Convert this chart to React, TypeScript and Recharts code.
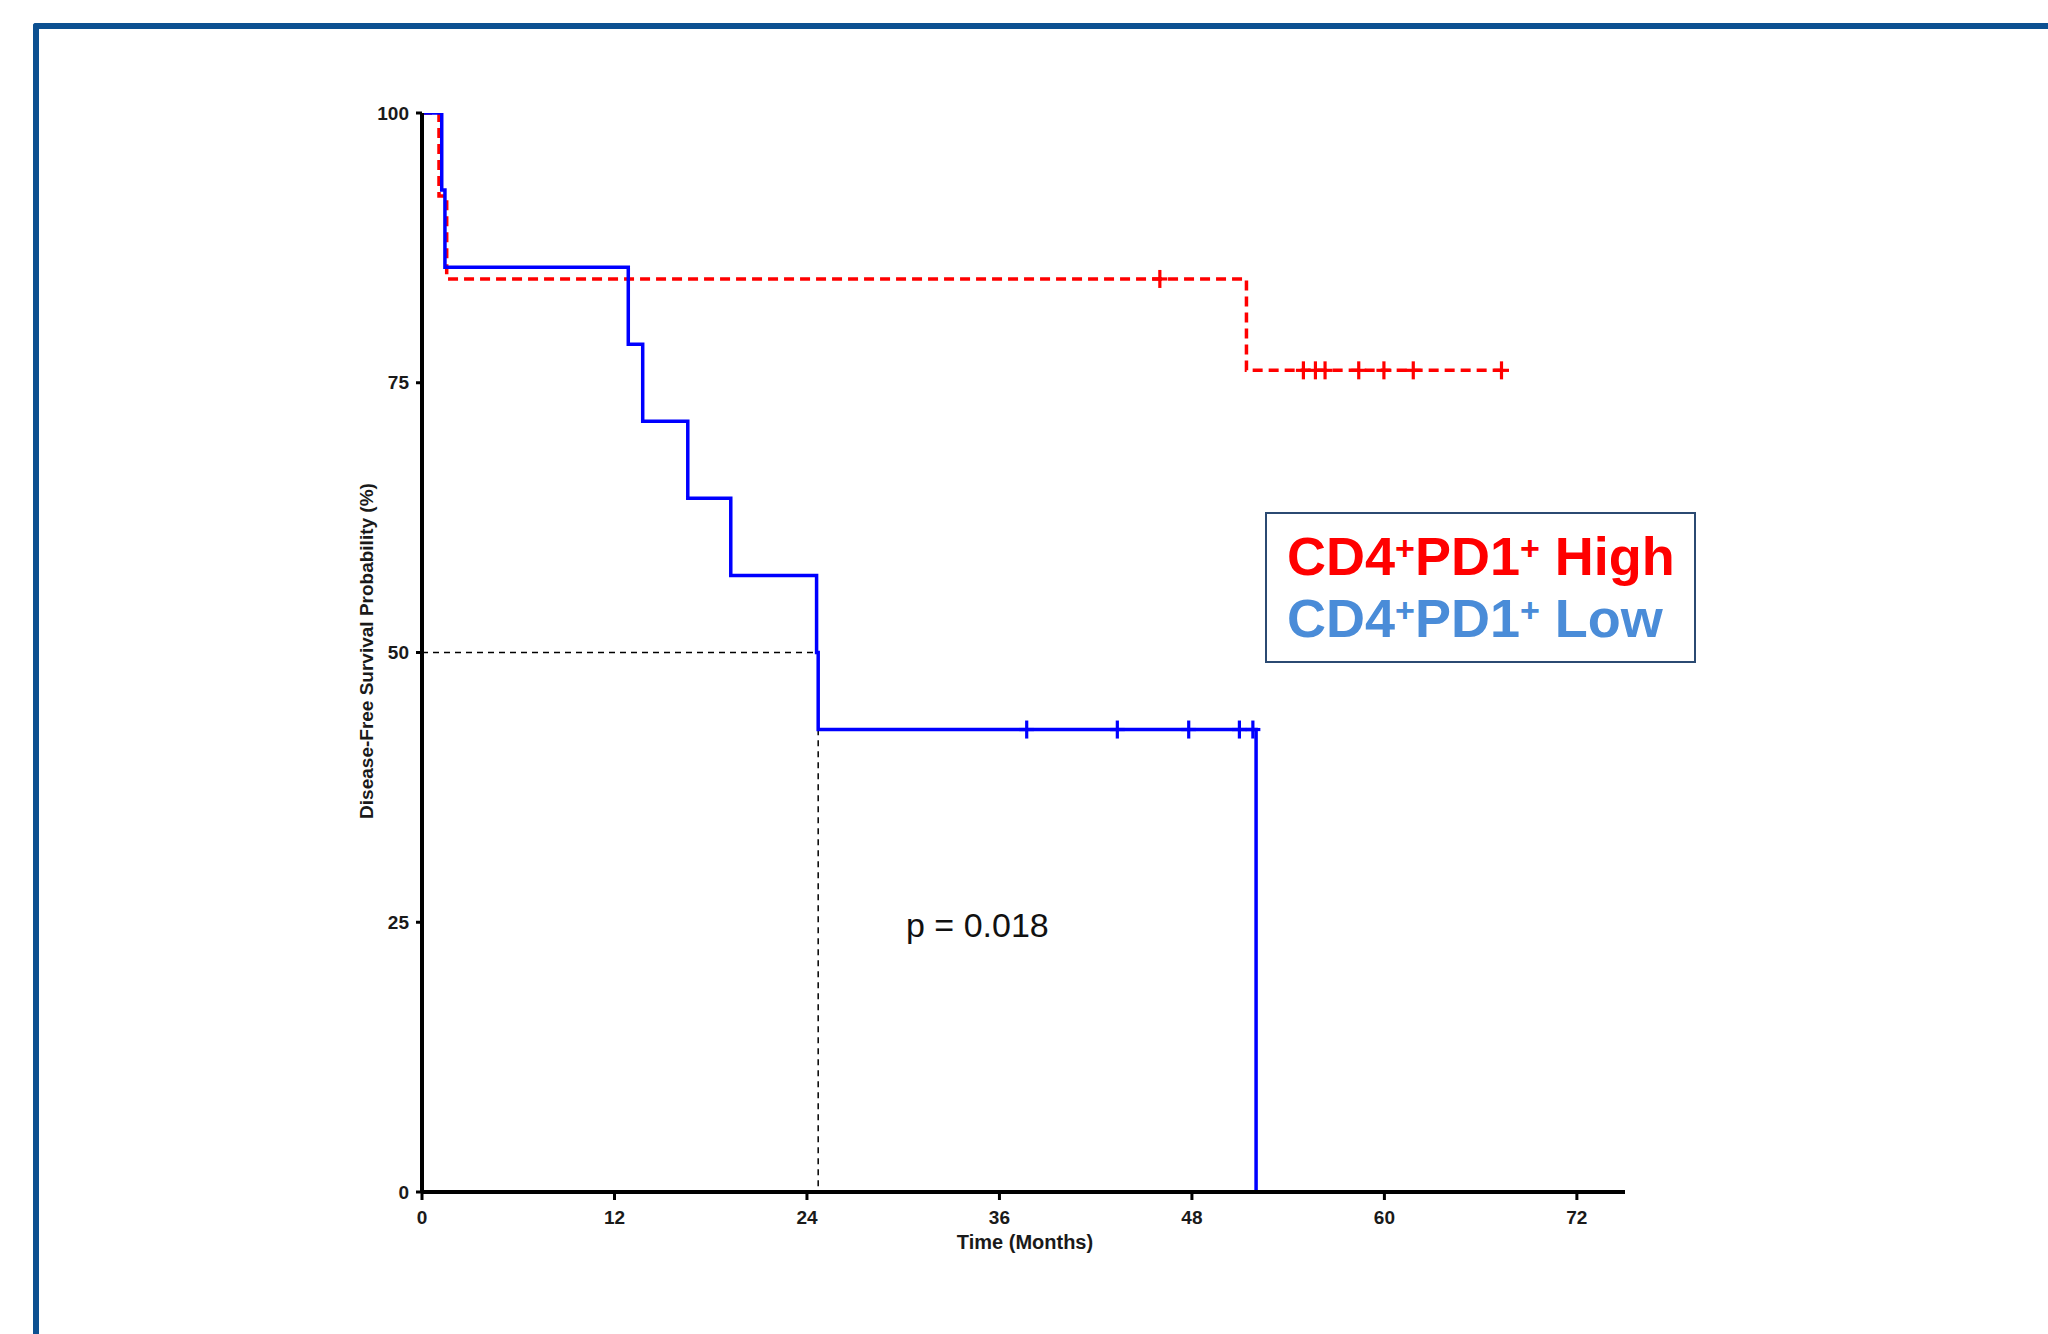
import React from 'react';
import { ComposedChart, Line, Scatter, XAxis, YAxis } from 'recharts';

// ---- data ----
const xTicks = [0, 12, 24, 36, 48, 60, 72];
const yTicks = [0, 25, 50, 75, 100];

// CD4+PD1+ Low (blue, solid) Kaplan-Meier steps
const lowTimes = [0, 1.23, 1.43, 12.86, 13.76, 16.57, 19.25, 24.6, 24.7, 52.0];
const lowSurvival = [100, 92.86, 85.71, 78.57, 71.43, 64.29, 57.14, 50.0, 42.86, 0];

// CD4+PD1+ High (red, dashed) Kaplan-Meier steps
const highTimes = [0, 1.06, 1.54, 51.4, 67.3];
const highSurvival = [100, 92.31, 84.62, 76.15, 76.15];

// censored observations
const lowCensorTimes = [37.7, 43.35, 47.8, 50.96, 51.8];
const lowCensorSurvival = [42.86, 42.86, 42.86, 42.86, 42.86];
const highCensorTimes = [46.0, 54.95, 55.7, 56.3, 58.4, 59.97, 61.8, 67.3];
const highCensorSurvival = [84.62, 76.15, 76.15, 76.15, 76.15, 76.15, 76.15, 76.15];

// median survival guide
const medianTimes = [0, 24.7, 24.7];
const medianSurvival = [50, 50, 0];

const legendHigh = ['CD4', '+', 'PD1', '+', ' High'];
const legendLow = ['CD4', '+', 'PD1', '+', ' Low'];
const pValueText = 'p = 0.018';
const xLabel = 'Time (Months)';
const yLabel = 'Disease-Free Survival Probability (%)';

const zip = (t: number[], s: number[]) => t.map((x, i) => ({ t: x, s: s[i] }));

const lowData = zip(lowTimes, lowSurvival);
const highData = zip(highTimes, highSurvival);
const lowCensor = zip(lowCensorTimes, lowCensorSurvival);
const highCensor = zip(highCensorTimes, highCensorSurvival);
const medianData = zip(medianTimes, medianSurvival);

const FONT = '"Liberation Sans", Arial, sans-serif';

const makePlus = (color: string) => (props: any) => {
  const { cx, cy } = props;
  if (cx == null || cy == null) return <g />;
  return (
    <g stroke={color} strokeWidth={3.2}>
      <line x1={cx - 7.5} x2={cx + 7.5} y1={cy} y2={cy} />
      <line x1={cx} x2={cx} y1={cy - 9} y2={cy + 9} />
    </g>
  );
};

const SUP_SHIFT = 15;

const LegendLine = ({ parts, y, color }: { parts: string[]; y: number; color: string }) => (
  <text x={1287} y={y} fill={color} fontFamily={FONT} fontWeight="bold" fontSize={54}>
    {parts.map((p, i) =>
      p === '+' ? (
        <tspan key={i} fontSize={34} dy={-SUP_SHIFT}>
          {p}
        </tspan>
      ) : (
        <tspan key={i} dy={i > 0 && parts[i - 1] === '+' ? SUP_SHIFT : 0}>
          {p}
        </tspan>
      )
    )}
  </text>
);

export default function App() {
  const tickStyle = { fill: '#1a1a1a', fontSize: 19, fontWeight: 'bold', fontFamily: FONT };
  return (
    <div style={{ position: 'absolute', left: 0, top: 0, width: 2048, height: 1334, background: '#fff', overflow: 'hidden' }}>
      <div
        style={{
          position: 'absolute',
          left: 33,
          top: 23,
          width: 2048,
          height: 1334,
          borderTop: '6px solid #0C5091',
          borderLeft: '6px solid #0C5091',
          borderTopLeftRadius: 3,
        }}
      />
      <div style={{ position: 'absolute', left: 0, top: 0 }}>
        <ComposedChart width={2048} height={1334} margin={{ top: 113, left: 362, right: 423, bottom: 82 }}>
          <XAxis
            type="number"
            dataKey="t"
            domain={[0, 75]}
            ticks={xTicks}
            allowDataOverflow
            height={60}
            axisLine={{ stroke: '#000', strokeWidth: 4 }}
            tickLine={{ stroke: '#000', strokeWidth: 3 }}
            tickSize={8}
            tickMargin={11}
            tick={tickStyle}
          />
          <YAxis
            type="number"
            dataKey="s"
            domain={[0, 100]}
            ticks={yTicks}
            allowDataOverflow
            width={60}
            axisLine={{ stroke: '#000', strokeWidth: 4 }}
            tickLine={{ stroke: '#000', strokeWidth: 3 }}
            tickSize={6}
            tickMargin={7}
            tick={tickStyle}
          />
          <Line
            data={medianData}
            dataKey="s"
            type="linear"
            stroke="#000"
            strokeWidth={1.5}
            strokeDasharray="6 5"
            dot={false}
            activeDot={false}
            isAnimationActive={false}
          />
          <Line
            data={highData}
            dataKey="s"
            type="stepAfter"
            stroke="#FF0000"
            strokeWidth={3.5}
            strokeDasharray="10 6"
            dot={false}
            activeDot={false}
            isAnimationActive={false}
          />
          <Line
            data={lowData}
            dataKey="s"
            type="stepAfter"
            stroke="#0000FF"
            strokeWidth={3.5}
            dot={false}
            activeDot={false}
            isAnimationActive={false}
          />
          <Scatter data={highCensor} dataKey="s" shape={makePlus('#FF0000')} isAnimationActive={false} />
          <Scatter data={lowCensor} dataKey="s" shape={makePlus('#0000FF')} isAnimationActive={false} />
        </ComposedChart>
      </div>
      <svg width={2048} height={1334} style={{ position: 'absolute', left: 0, top: 0, pointerEvents: 'none' }}>
        <text
          transform="translate(372.5,651) rotate(-90)"
          textAnchor="middle"
          fontFamily={FONT}
          fontWeight="bold"
          fontSize={19}
          fill="#1a1a1a"
        >
          {yLabel}
        </text>
        <text x={1025} y={1249} textAnchor="middle" fontFamily={FONT} fontWeight="bold" fontSize={20} fill="#1a1a1a">
          {xLabel}
        </text>
        <text x={906} y={937} fontFamily={FONT} fontSize={34} fill="#111">
          {pValueText}
        </text>
        <rect x={1266} y={513} width={429} height={149} fill="#fff" stroke="#2B4A72" strokeWidth={2} />
        <LegendLine parts={legendHigh} y={575} color="#FF0000" />
        <LegendLine parts={legendLow} y={637} color="#4A8CD8" />
      </svg>
    </div>
  );
}
